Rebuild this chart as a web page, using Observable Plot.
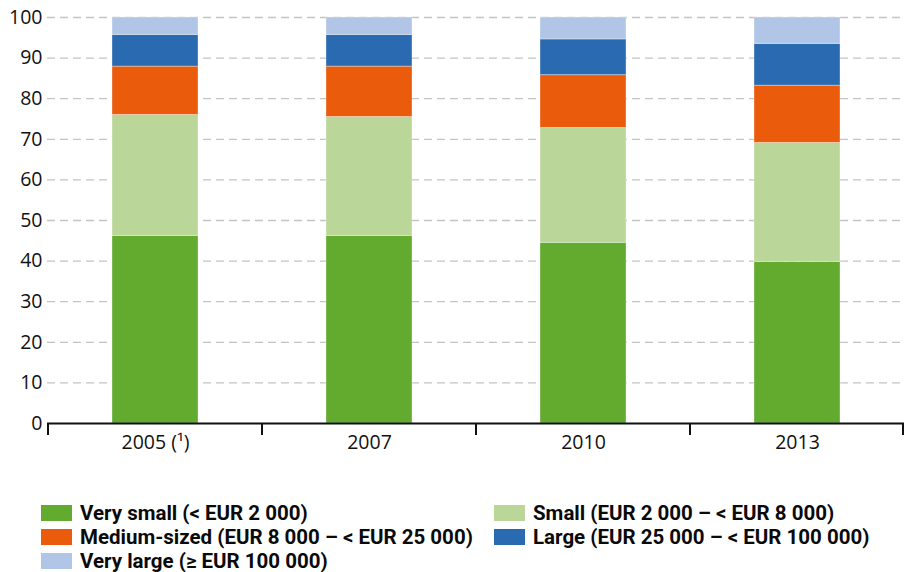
<!DOCTYPE html>
<html><head><meta charset="utf-8">
<script src="https://cdn.jsdelivr.net/npm/d3@7"></script>
<script src="https://cdn.jsdelivr.net/npm/@observablehq/plot@0.6"></script>
<style>
body{margin:0;background:#fff;font-family:"Open Sans",sans-serif;}
#chart{width:904px;height:572px;overflow:hidden;}
.legend{display:grid;grid-template-columns:453px 410px;margin-left:41px;margin-top:41px;}
.item{display:flex;align-items:center;height:24px;font-weight:bold;font-size:20.5px;font-family:Roboto,sans-serif;color:#0a0a0a;white-space:nowrap;}
.sw{width:31px;height:16px;margin-right:8px;flex:none;}
</style>
</head><body><div id="chart"></div>
<script>
const years = ["2005 (¹)", "2007", "2010", "2013"];
const classes = [
  "Very small (< EUR 2 000)",
  "Small (EUR 2 000 – < EUR 8 000)",
  "Medium-sized (EUR 8 000 – < EUR 25 000)",
  "Large (EUR 25 000 – < EUR 100 000)",
  "Very large (≥ EUR 100 000)"
];
const colors = ["#62ab2e", "#bbd699", "#ea5b0c", "#2a6ab1", "#b1c5e7"];
const verySmall = [46.2, 46.2, 44.5, 39.8];
const small = [29.8, 29.3, 28.3, 29.3];
const medium = [11.9, 12.4, 13.0, 14.1];
const large = [7.8, 7.8, 8.8, 10.3];
const veryLarge = [4.3, 4.3, 5.4, 6.5];
const yTicks = [0, 10, 20, 30, 40, 50, 60, 70, 80, 90, 100];

const series = [verySmall, small, medium, large, veryLarge];
const table = [];
years.forEach((yr, i) => {
  classes.forEach((c, k) => table.push({year: yr, cls: c, value: series[k][i]}));
});

function boundaryTicks(index, scales, values, dims) {
  const sx = scales.x;
  const bw = typeof sx.bandwidth === "function" ? sx.bandwidth() : sx.bandwidth;
  const st = typeof sx.step === "function" ? sx.step() : sx.step;
  const y0 = scales.y(0);
  const xs = years.map(c => sx(c) - (st - bw) / 2);
  xs.push(xs[xs.length - 1] + st);
  const g = d3.create("svg:g");
  g.selectAll("line").data(xs).join("line")
    .attr("x1", d => Math.min(d, dims.width - 1)).attr("x2", d => Math.min(d, dims.width - 1))
    .attr("y1", y0).attr("y2", y0 + 12)
    .attr("stroke", "#111").attr("stroke-width", 2);
  return g.node();
}

const plot = Plot.plot({
  width: 904, height: 460,
  marginLeft: 47, marginRight: 0, marginTop: 17, marginBottom: 37,
  style: {fontFamily: "Open Sans, sans-serif", fontSize: "19.5px", color: "#111", background: "#fff"},
  x: {domain: years, paddingInner: 0.6, paddingOuter: 0.3, label: null},
  y: {domain: [0, 100], label: null},
  color: {domain: classes, range: colors},
  marks: [
    Plot.ruleY(yTicks.filter(d => d > 0), {stroke: "#c4c4c4", strokeWidth: 1.3, strokeDasharray: "8,5"}),
    Plot.barY(table, {x: "year", y: "value", fill: "cls", stroke: "white", strokeOpacity: 0.35, strokeWidth: 1}),
    Plot.axisY({ticks: yTicks, tickSize: 0, tickPadding: 5, fontSize: 19.5, label: null}),
    Plot.axisX({tickSize: 0, tickPadding: 12, fontSize: 19.5, label: null}),
    Plot.ruleY([0], {stroke: "#111", strokeWidth: 2}),
    boundaryTicks
  ]
});
const chart = document.getElementById("chart");
chart.appendChild(plot);

const leg = document.createElement("div");
leg.className = "legend";
classes.forEach((c, k) => {
  const it = document.createElement("div");
  it.className = "item";
  const sw = document.createElement("span");
  sw.className = "sw";
  sw.style.background = colors[k];
  const tx = document.createElement("span");
  tx.textContent = c;
  it.appendChild(sw); it.appendChild(tx);
  leg.appendChild(it);
});
chart.appendChild(leg);
</script>
</body></html>
